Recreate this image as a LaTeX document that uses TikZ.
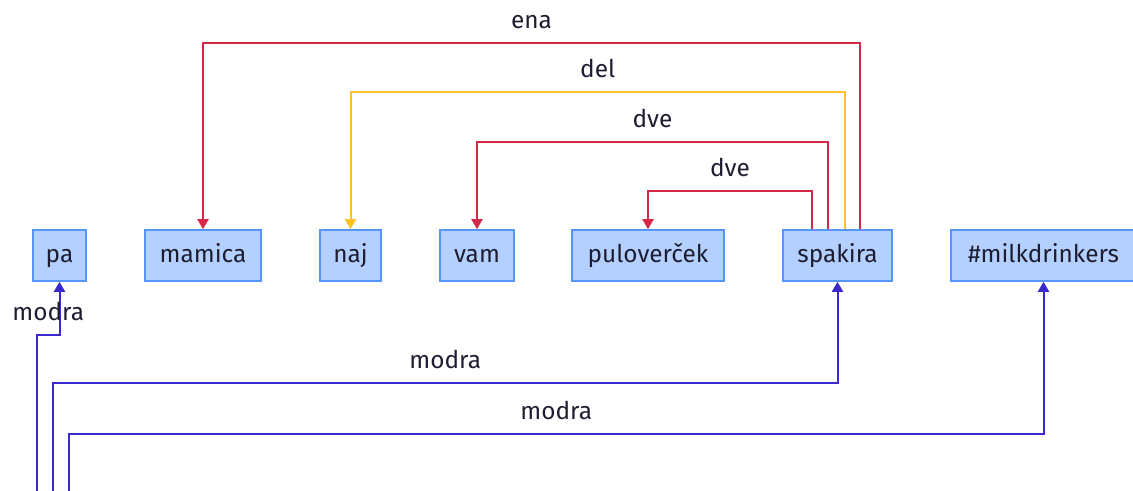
\documentclass[tikz,border=0pt]{standalone}
\usepackage{fontspec}
\setmainfont{Fira Sans}
\usetikzlibrary{arrows.meta}

\definecolor{boxfill}{RGB}{180,208,255}
\definecolor{boxline}{RGB}{85,150,250}
\definecolor{wordtext}{RGB}{30,30,50}
\definecolor{linkred}{RGB}{212,40,72}
\definecolor{linkyellow}{RGB}{255,192,40}
\definecolor{linkblue}{RGB}{58,40,208}

\begin{document}
\begin{tikzpicture}[
  x=0.5pt, y=-0.5pt,
  word/.style={draw=boxline, fill=boxfill, line width=0.8pt, minimum height=25.5pt, inner sep=0pt, text height=10pt, text depth=2.5pt, font=\fontsize{12.2}{14}\selectfont, text=wordtext},
  link/.style={line width=1pt, -{Triangle[width=5.5pt,length=5pt]}},
  lbl/.style={above=3.5pt, pos=0.25, inner sep=3pt, font=\fontsize{12.2}{14}\selectfont, text=wordtext}
]
\useasboundingbox (0,0) rectangle (1133,491);

% Row: words
\node[word, minimum width=26.5pt] (pa) at (59.5,255.5) {pa};
\node[word, minimum width=58pt] (mamica) at (203,255.5) {mamica};
\node[word, minimum width=30.5pt] (naj) at (350.5,255.5) {naj};
\node[word, minimum width=37pt] (vam) at (477,255.5) {vam};
\node[word, minimum width=76pt] (pulovercek) at (648,255.5) {puloverček};
\node[word, minimum width=54.5pt] (spakira) at (837.5,255.5) {spakira};
\node[word, minimum width=92.5pt] (milk) at (1043.5,255.5) {\#milkdrinkers};

% free ends below the picture
\coordinate (src1) at (37,500);
\coordinate (src2) at (53,500);
\coordinate (src3) at (69,500);

% Arcs above: from spakira
\draw[link, linkred] ([xshift=11.25pt]spakira.north) -- ++(0,-186) -| node[lbl] {ena} (mamica.north);
\draw[link, linkyellow] ([xshift=3.75pt]spakira.north) -- ++(0,-137) -| node[lbl] {del} (naj.north);
\draw[link, linkred] ([xshift=-4.75pt]spakira.north) -- ++(0,-87) -| node[lbl] {dve} (vam.north);
\draw[link, linkred] ([xshift=-12.75pt]spakira.north) -- ++(0,-38) -| node[lbl] {dve} (pulovercek.north);

% Arcs below: modra
\draw[link, linkblue] (src1) -- ++(0,-165) -| node[lbl] {modra} (pa.south);
\draw[link, linkblue] (src2) -- ++(0,-117) -| node[lbl] {modra} (spakira.south);
\draw[link, linkblue] (src3) -- ++(0,-66) -| node[lbl] {modra} (milk.south);

\end{tikzpicture}
\end{document}
